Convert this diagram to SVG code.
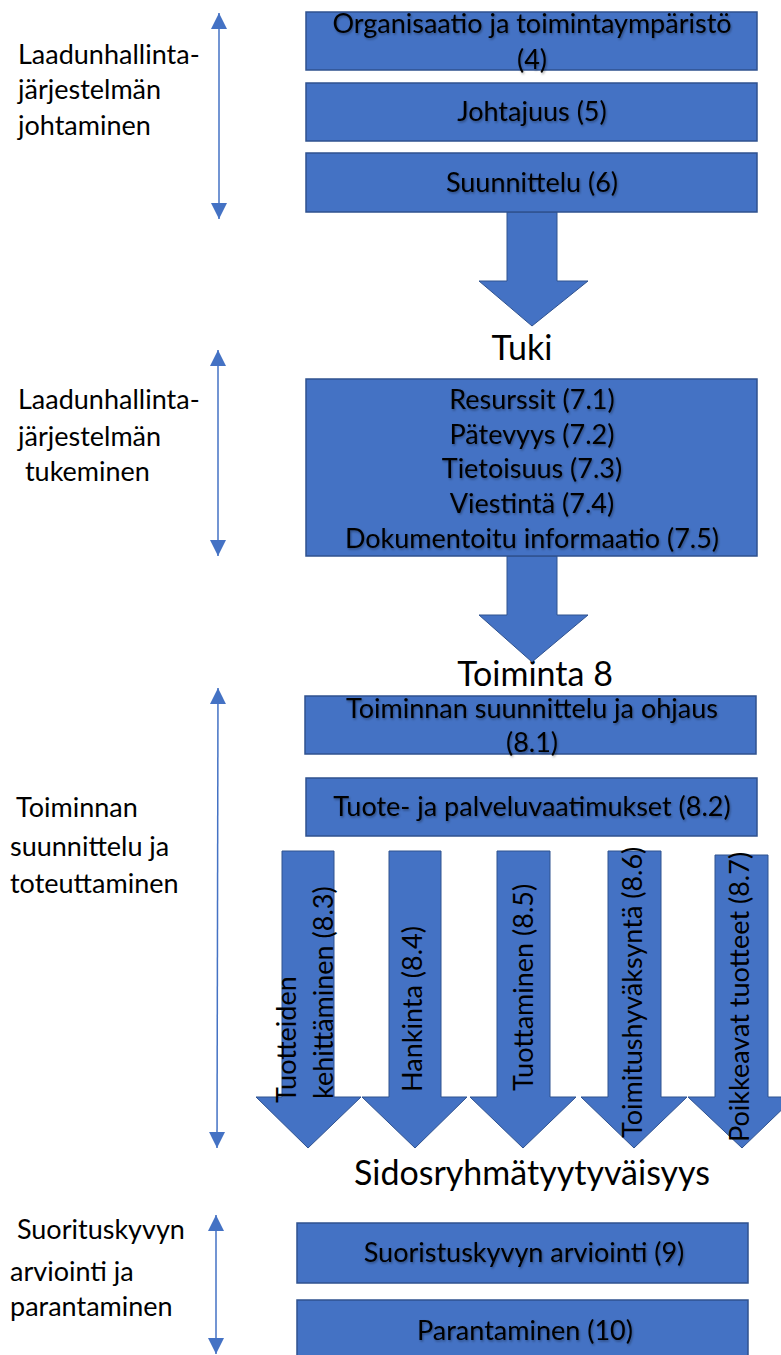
<svg xmlns="http://www.w3.org/2000/svg" width="781" height="1355" viewBox="0 0 781 1355">
  <style>
    .box { fill: #4472C4; stroke: #2F528F; stroke-width: 1.5; }
    .big { fill: #4472C4; stroke: #2F528F; stroke-width: 1; }
    .bt { font-family: Lato, "Liberation Sans", sans-serif; font-size: 27px; fill: #000; text-anchor: middle; filter: url(#sh); }
    .vt { font-family: Lato, "Liberation Sans", sans-serif; font-size: 27px; fill: #000; text-anchor: start; }
    .lbl { font-family: Lato, "Liberation Sans", sans-serif; font-size: 27px; fill: #000; }
    .hd { font-family: Lato, "Liberation Sans", sans-serif; font-size: 34px; fill: #000; text-anchor: middle; }
    .dbl { stroke: #4472C4; stroke-width: 1.5; fill: none; marker-start: url(#tri); marker-end: url(#tri); }
  </style>
  <defs>
    <marker id="tri" viewBox="0 0 16 16" refX="16" refY="8" markerWidth="16" markerHeight="16" markerUnits="userSpaceOnUse" orient="auto-start-reverse">
      <path d="M0,0 L16,8 L0,16 Z" fill="#4472C4"/>
    </marker>
    <filter id="sh" x="-5%" y="-20%" width="110%" height="150%">
      <feDropShadow dx="1" dy="1.5" stdDeviation="1" flood-color="#000" flood-opacity="0.35"/>
    </filter>
  </defs>

  <!-- side labels -->
  <g id="label-johtaminen" class="lbl">
    <text x="18" y="64">Laadunhallinta-</text>
    <text x="18" y="99">järjestelmän</text>
    <text x="18" y="135">johtaminen</text>
  </g>
  <g id="label-tukeminen" class="lbl">
    <text x="18" y="409">Laadunhallinta-</text>
    <text x="18" y="446">järjestelmän</text>
    <text x="18" y="481" xml:space="preserve"> tukeminen</text>
  </g>
  <g id="label-toteuttaminen" class="lbl">
    <text x="10" y="817" xml:space="preserve"> Toiminnan</text>
    <text x="10" y="856">suunnittelu ja</text>
    <text x="10" y="893">toteuttaminen</text>
  </g>
  <g id="label-parantaminen" class="lbl">
    <text x="10" y="1239" xml:space="preserve"> Suorituskyvyn</text>
    <text x="10" y="1281">arviointi ja</text>
    <text x="10" y="1316">parantaminen</text>
  </g>

  <!-- section headings -->
  <g id="heading-tuki"><text class="hd" x="522" y="360">Tuki</text></g>
  <g id="heading-toiminta"><text class="hd" x="535" y="686">Toiminta 8</text></g>
  <g id="heading-sidosryhma"><text class="hd" x="532" y="1185">Sidosryhmätyytyväisyys</text></g>

  <!-- connectors: range brackets and flow arrows -->
  <g id="connectors">
    <line class="dbl" x1="219" y1="13" x2="219" y2="219"/>
    <line class="dbl" x1="218" y1="350" x2="218" y2="556"/>
    <line class="dbl" x1="218" y1="688" x2="217" y2="1148"/>
    <line class="dbl" x1="216" y1="1215" x2="216" y2="1354"/>
    <path class="big" d="M507,212 H557 V281 H588 L532,326 L479,281 H507 Z"/>
    <path class="big" d="M507,556 H557 V615 H588 L532,662 L479,615 H507 Z"/>
  </g>

  <!-- management block -->
  <g id="n4">
    <rect class="box" x="306" y="12" width="451" height="58"/>
    <text class="bt" x="532" y="33">Organisaatio ja toimintaympäristö</text>
    <text class="bt" x="532" y="69">(4)</text>
  </g>
  <g id="n5">
    <rect class="box" x="306" y="83" width="451" height="58"/>
    <text class="bt" x="532" y="121">Johtajuus (5)</text>
  </g>
  <g id="n6">
    <rect class="box" x="306" y="153" width="451" height="59"/>
    <text class="bt" x="532" y="192">Suunnittelu (6)</text>
  </g>

  <!-- support block -->
  <g id="n7">
    <rect class="box" x="306" y="379" width="451" height="177"/>
    <text class="bt" x="532" y="409">Resurssit (7.1)</text>
    <text class="bt" x="532" y="444">Pätevyys (7.2)</text>
    <text class="bt" x="532" y="478">Tietoisuus (7.3)</text>
    <text class="bt" x="532" y="513">Viestintä (7.4)</text>
    <text class="bt" x="532" y="548">Dokumentoitu informaatio (7.5)</text>
  </g>

  <!-- operation block -->
  <g id="n81">
    <rect class="box" x="305" y="696" width="451" height="58"/>
    <text class="bt" x="532" y="718">Toiminnan suunnittelu ja ohjaus</text>
    <text class="bt" x="532" y="752">(8.1)</text>
  </g>
  <g id="n82">
    <rect class="box" x="306" y="778" width="451" height="58"/>
    <text class="bt" x="532" y="816">Tuote- ja palveluvaatimukset (8.2)</text>
  </g>

  <g id="n83">
    <path class="big" d="M282,851 H334 V1097 H361 L308,1148 L256,1097 H282 Z"/>
    <text class="vt" transform="translate(296,1103) rotate(-90)">Tuotteiden</text>
    <text class="vt" transform="translate(333,1099) rotate(-90)">kehittäminen (8.3)</text>
  </g>
  <g id="n84">
    <path class="big" d="M389,851 H441 V1097 H467 L415,1148 L362,1097 H389 Z"/>
    <text class="vt" transform="translate(422,1092) rotate(-90)">Hankinta (8.4)</text>
  </g>
  <g id="n85">
    <path class="big" d="M497,851 H550 V1097 H576 L523,1148 L470,1097 H497 Z"/>
    <text class="vt" transform="translate(533,1091) rotate(-90)">Tuottaminen (8.5)</text>
  </g>
  <g id="n86">
    <path class="big" d="M608,851 H661 V1097 H687 L634,1148 L581,1097 H608 Z"/>
    <text class="vt" transform="translate(642,1138) rotate(-90)">Toimitushyväksyntä (8.6)</text>
  </g>
  <g id="n87">
    <path class="big" d="M715,855 H768 V1097 H795 L742,1148 L688,1097 H715 Z"/>
    <text class="vt" transform="translate(749,1142) rotate(-90)">Poikkeavat tuotteet (8.7)</text>
  </g>

  <!-- evaluation block -->
  <g id="n9">
    <rect class="box" x="297" y="1223" width="451" height="60"/>
    <text class="bt" x="524" y="1262">Suoristuskyvyn arviointi (9)</text>
  </g>
  <g id="n10">
    <rect class="box" x="297" y="1300" width="451" height="60"/>
    <text class="bt" x="525" y="1340">Parantaminen (10)</text>
  </g>
</svg>
